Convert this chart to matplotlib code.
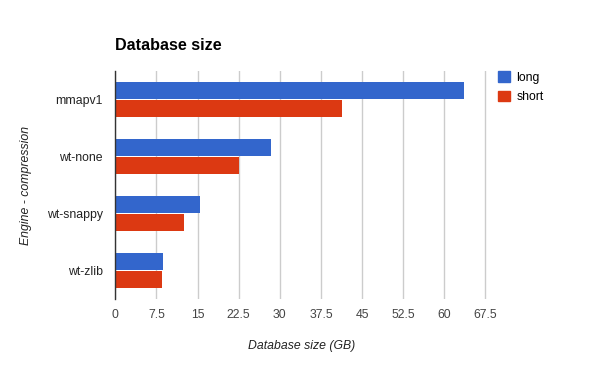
import matplotlib.pyplot as plt
import numpy as np
from matplotlib.patches import Patch

# data
engines = ["mmapv1", "wt-none", "wt-snappy", "wt-zlib"]
long_gb = [63.6, 28.4, 15.4, 8.7]
short_gb = [41.4, 22.6, 12.5, 8.5]
ticks = [0, 7.5, 15, 22.5, 30, 37.5, 45, 52.5, 60, 67.5]
tick_labels = ["0", "7.5", "15", "22.5", "30", "37.5", "45", "52.5", "60", "67.5"]

blue = "#3366cc"
red = "#dc3912"

plt.rcParams["font.family"] = ["Liberation Sans", "DejaVu Sans"]

fig = plt.figure(figsize=(6, 3.71), dpi=100)
ax = fig.add_axes([115.3 / 600, 1 - 299 / 371, (487 - 115.3) / 600, 228 / 371])

y = np.arange(len(engines))
h = 0.30
ax.barh(y - h / 2 - 0.005, long_gb, height=h, color=blue, zorder=3)
ax.barh(y + h / 2 + 0.005, short_gb, height=h, color=red, zorder=3)

ax.set_ylim(len(engines) - 0.5, -0.5)
ax.set_xlim(0, 67.5 * 371.7 / 370.2)
ax.set_yticks(y)
ax.set_yticklabels(engines, fontsize=8.8, color="#222222")
ax.set_xticks(ticks)
ax.set_xticklabels(tick_labels, fontsize=8.8, color="#444444")
ax.tick_params(length=0)
ax.tick_params(axis="y", pad=9)
ax.tick_params(axis="x", pad=7)

ax.grid(axis="x", color="#cccccc", linewidth=1, zorder=0)
for s in ["top", "right", "bottom"]:
    ax.spines[s].set_visible(False)
ax.spines["left"].set_color("#333333")
ax.spines["left"].set_linewidth(1)
ax.spines["left"].set_zorder(4)

ax.set_xlabel("Database size (GB)", fontsize=8.8, style="italic", color="#222222", labelpad=14)
ax.set_ylabel("Engine - compression", fontsize=8.8, style="italic", color="#222222", labelpad=11)

fig.text(115 / 600, 1 - 46 / 371, "Database size", fontsize=11.6, fontweight="bold",
         va="center", ha="left", color="#000000")

handles = [Patch(color=blue, label="long"), Patch(color=red, label="short")]
fig.legend(handles=handles, loc="upper left", bbox_to_anchor=(496 / 600, 1 - 69 / 371),
           frameon=False, fontsize=8.8, handlelength=0.95, handleheight=0.95,
           handletextpad=0.5, labelspacing=0.55, borderpad=0.2, borderaxespad=0)

fig.savefig("out.png", dpi=100)
